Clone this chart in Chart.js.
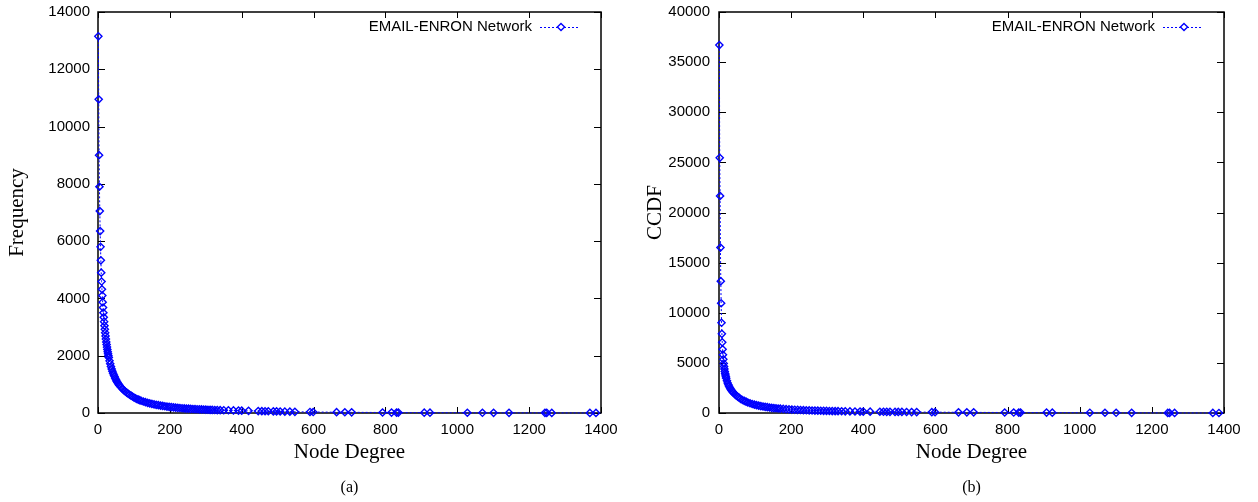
<!DOCTYPE html>
<html><head><meta charset="utf-8">
<script src="https://cdn.jsdelivr.net/npm/chart.js@4.4.1/dist/chart.umd.min.js"></script>
<style>
html,body{margin:0;padding:0;background:#fff;}
#wrap{position:relative;width:1258px;height:502px;overflow:hidden;background:#fff}
.panel{position:absolute;top:0;width:629px;height:502px}
canvas{display:block}
</style></head><body>
<div id="wrap">
<div class="panel" style="left:0"><canvas id="c1" width="629" height="502"></canvas></div>
<div class="panel" style="left:629px"><canvas id="c2" width="629" height="502"></canvas></div>
</div>
<script>
// ---- data ----
const seriesLabel = 'EMAIL-ENRON Network';
const xTickLabels = [0, 200, 400, 600, 800, 1000, 1200, 1400];

const freqDegrees = [1,2,3,4,5,6,7,8,9,10,11,12,13,14,15,16,17,18,19,20,21,22,23,24,25,26,27,28,29,30,
  32,34,36,38,40,42,44,46,48,50,52,54,56,58,60,
  64,68,72,76,80,84,88,92,96,100,104,108,112,116,120,
  126,132,138,144,150,156,162,168,174,180,186,192,198,204,210,216,222,228,234,240,246,252,258,264,270,276,282,288,294,300,306,312,318,
  325,332,340,350];
const freqCounts = [13150,10950,9000,7900,7050,6350,5800,5330,4900,4590,4320,4100,3870,3680,3500,3340,3190,3050,2920,2800,2690,2580,2480,2390,2300,2220,2140,2070,2000,1940,
  1820,1720,1620,1540,1460,1390,1330,1270,1210,1160,1110,1070,1030,990,960,
  900,845,795,750,710,672,638,606,577,540,514,490,468,447,428,
  402,378,356,336,318,301,286,272,259,247,236,225,215,206,197,189,181,174,167,161,155,150,145,140,136,132,128,124,121,118,114,110,107,
  104,101,99,97];

const tailDegrees = [363,377,391,400,419,446,456,465,474,488,497,507,520,534,548,590,599,664,687,706,792,817,831,836,908,924,1028,1070,1101,1144,1244,1249,1263,1369,1386];
const freqTail = [95,90,85,80,75,68,65,62,60,56,54,52,48,45,42,36,34,28,26,24,18,16,15,14,12,11,9,8,7,6,5,5,4,3,2];

const ccdfDegrees = [1,2,3,4,5,6,7,8,9,10,11,12,13,14,15,16,17,18,19,20,
  22,24,26,28,30,32,34,36,38,40,
  44,48,52,56,60,65,70,75,80,
  86,92,98,104,110,116,122,128,134,140,146,152,158,164,170,
  178,186,194,202,210,218,226,234,242,250,258,266,274,282,290,298,306,314,322,330,
  340,350];
const ccdfValues = [36700,25450,21650,16500,13150,10950,9000,7900,7050,6350,5800,5350,4950,4650,4400,4150,3950,3780,3620,3470,
  3220,3000,2820,2660,2520,2400,2290,2190,2100,2020,
  1870,1740,1620,1520,1400,1300,1210,1130,1050,
  970,900,840,785,735,690,650,612,578,547,520,495,472,450,430,
  405,382,362,344,327,312,298,285,273,262,252,242,233,224,216,208,200,193,186,180,
  172,165];
const ccdfTail = [155,150,145,140,133,125,122,118,115,110,107,104,100,96,92,84,82,70,66,63,50,47,45,44,38,36,28,25,22,18,12,11,9,5,2];

const freqTicks = [0,2000,4000,6000,8000,10000,12000,14000];
const ccdfTicks = [0,5000,10000,15000,20000,25000,30000,35000,40000];

// ---- helpers ----
const BLUE = '#0000ff';
const SANS = 'Liberation Sans, Arial, sans-serif';
const SERIF = 'Liberation Serif, Times New Roman, serif';
function pts(xs, ys) { return xs.map((x, i) => ({ x: x, y: ys[i] })); }

const framePlugin = {
  id: 'frame',
  beforeDatasetsDraw(chart, args, opts) {
    const { ctx, chartArea: a, scales } = chart;
    const x = scales.x, y = scales.y;
    ctx.save();
    ctx.strokeStyle = '#000';
    ctx.lineWidth = 1;
    ctx.beginPath();
    x.ticks.forEach(t => {
      const px = Math.round(x.getPixelForValue(t.value)) + 0.5;
      ctx.moveTo(px, a.bottom); ctx.lineTo(px, a.bottom - 6);
      ctx.moveTo(px, a.top); ctx.lineTo(px, a.top + 6);
    });
    y.ticks.forEach(t => {
      const py = Math.round(y.getPixelForValue(t.value)) + 0.5;
      ctx.moveTo(a.left, py); ctx.lineTo(a.left + 7, py);
      ctx.moveTo(a.right, py); ctx.lineTo(a.right - 7, py);
    });
    ctx.stroke();
    ctx.lineWidth = 1.5;
    ctx.strokeRect(a.left, a.top, a.right - a.left, a.bottom - a.top);
    ctx.restore();
  },
  afterDraw(chart, args, opts) {
    const { ctx, chartArea: a } = chart;
    ctx.save();
    // legend
    const ly = a.top + 15;
    ctx.font = '15px ' + SANS;
    ctx.fillStyle = '#000';
    ctx.textAlign = 'right';
    ctx.textBaseline = 'middle';
    ctx.fillText(opts.legend, a.right - 69, ly);
    ctx.strokeStyle = BLUE;
    ctx.lineWidth = 1;
    ctx.setLineDash([2, 2]);
    ctx.beginPath();
    ctx.moveTo(a.right - 61, ly + 0.5); ctx.lineTo(a.right - 21, ly + 0.5);
    ctx.stroke();
    ctx.setLineDash([]);
    const cx = a.right - 40, r = 3.6;
    ctx.lineWidth = 1.4;
    ctx.fillStyle = '#fff';
    ctx.beginPath();
    ctx.moveTo(cx, ly - r); ctx.lineTo(cx + r, ly); ctx.lineTo(cx, ly + r); ctx.lineTo(cx - r, ly); ctx.closePath();
    ctx.fill(); ctx.stroke();
    // caption
    ctx.fillStyle = '#000';
    ctx.textAlign = 'center';
    ctx.font = '16px ' + SERIF;
    ctx.fillText(opts.caption, (a.left + a.right) / 2, 488);
    ctx.restore();
  }
};

function makeChart(id, data, yTicks, yTitle, caption, yWidth, padRight, yTitlePad, yLabelPad) {
  const yMax = yTicks[yTicks.length - 1];
  return new Chart(document.getElementById(id), {
    type: 'scatter',
    data: {
      datasets: [{
        label: seriesLabel,
        data: data,
        showLine: true,
        borderColor: BLUE,
        borderWidth: 1,
        borderDash: [2, 2],
        pointStyle: 'rectRot',
        pointRadius: 3.6,
        pointBorderColor: BLUE,
        pointBackgroundColor: 'rgba(0,0,0,0)',
        pointBorderWidth: 1.4,
        tension: 0,
        clip: false
      }]
    },
    options: {
      responsive: false,
      animation: false,
      devicePixelRatio: 1,
      layout: { padding: { left: 0, right: padRight, top: 12, bottom: 29 } },
      plugins: {
        legend: { display: false },
        tooltip: { enabled: false },
        frame: { legend: seriesLabel, caption: caption }
      },
      scales: {
        x: {
          type: 'linear', min: xTickLabels[0], max: xTickLabels[xTickLabels.length - 1],
          afterBuildTicks(s) { s.ticks = xTickLabels.map(v => ({ value: v })); },
          ticks: { color: '#000', font: { family: SANS, size: 15 }, padding: 8, maxRotation: 0, autoSkip: false,
                   callback: v => String(v) },
          grid: { display: false, drawTicks: false },
          border: { display: false },
          title: { display: true, text: 'Node Degree', color: '#000', font: { family: SERIF, size: 21 },
                   padding: { top: 0, bottom: 8 } },
          afterFit(s) { s.height = 60; s.paddingLeft = 0; s.paddingRight = 0; }
        },
        y: {
          type: 'linear', min: 0, max: yMax,
          afterBuildTicks(s) { s.ticks = yTicks.map(v => ({ value: v })); },
          ticks: { color: '#000', font: { family: SANS, size: 15 }, padding: yLabelPad, autoSkip: false,
                   callback: v => String(v) },
          grid: { display: false, drawTicks: false },
          border: { display: false },
          title: { display: true, text: yTitle, color: '#000', font: { family: SERIF, size: 21 },
                   padding: { top: yTitlePad, bottom: 0 } },
          afterFit(s) { s.width = yWidth; s.paddingTop = 0; s.paddingBottom = 0; }
        }
      }
    },
    plugins: [framePlugin]
  });
}

makeChart('c1', pts(freqDegrees, freqCounts).concat(pts(tailDegrees, freqTail)),
  freqTicks, 'Frequency', '(a)', 98, 28, 5, 8);
makeChart('c2', pts(ccdfDegrees, ccdfValues).concat(pts(tailDegrees, ccdfTail)),
  ccdfTicks, 'CCDF', '(b)', 90, 34, 14, 9);
</script>
</body></html>
